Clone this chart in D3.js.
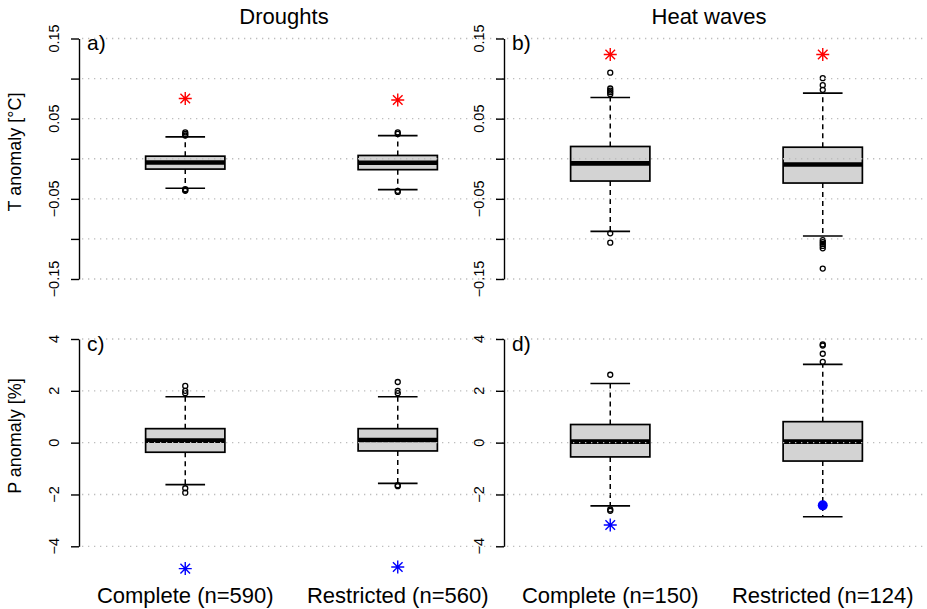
<!DOCTYPE html>
<html><head><meta charset="utf-8">
<script src="https://cdn.jsdelivr.net/npm/d3@7"></script>
<style>body{margin:0;background:#fff} svg{display:block} text{font-family:"Liberation Sans",Arial,sans-serif;fill:#000}</style>
</head><body>
<script>
const panelTitles = ["Droughts", "Heat waves"];
const panelLetters = ["a)", "b)", "c)", "d)"];
const yLabels = ["T anomaly [°C]", "P anomaly [%]"];
const droughtCats = ["Complete (n=590)", "Restricted (n=560)"];
const heatCats = ["Complete (n=150)", "Restricted (n=124)"];
const tTicks = [-0.15, -0.10, -0.05, 0, 0.05, 0.10, 0.15];
const tTickLabels = ["−0.15", "", "−0.05", "", "0.05", "", "0.15"];
const pTicks = [-4, -2, 0, 2, 4];
const pTickLabels = ["−4", "−2", "0", "2", "4"];

// each box: [lower whisker, Q1, median, Q3, upper whisker]
const droughtT = [[-0.0368, -0.0129, -0.0046, 0.0032, 0.0273], [-0.0385, -0.0136, -0.0050, 0.0041, 0.0289]];
const droughtTOut = [[0.029, 0.031, 0.033, -0.038, -0.039, -0.040], [0.031, 0.033, -0.040, -0.0414]];
const droughtTStar = [0.0752, 0.0732];
const heatT = [[-0.0906, -0.0278, -0.0058, 0.0153, 0.0764], [-0.0964, -0.0303, -0.0071, 0.0144, 0.0819]];
const heatTOut = [[0.1074, 0.0876, 0.085, 0.083, 0.0806, -0.093, -0.1047], [0.1005, 0.0918, 0.086, -0.1014, -0.104, -0.1063, -0.1088, -0.1117, -0.137]];
const heatTStar = [0.130, 0.130];
const droughtP = [[-1.62, -0.37, 0.077, 0.54, 1.77], [-1.57, -0.32, 0.10, 0.54, 1.77]];
const droughtPOut = [[2.19, 2.0, 1.91, -1.76, -1.93], [2.34, 2.0, 1.91, -1.64, -1.68]];
const droughtPStar = [-4.86, -4.80];
const heatP = [[-2.44, -0.55, 0.04, 0.70, 2.28], [-2.86, -0.71, 0.04, 0.81, 3.02]];
const heatPOut = [[2.62, -2.58, -2.63], [3.79, 3.75, 3.43, 3.12]];
const heatPStar = [-3.18, null];
const heatPDot = [null, -2.42];

const W = 927, H = 609;
const svg = d3.select("body").append("svg").attr("width", W).attr("height", H);

const colX = [[79, 504], [504, 929]];
const rowY = [[279, 38.5], [546.3, 339]];

const panels = [
  {col: 0, row: 0, stats: droughtT, out: droughtTOut, star: droughtTStar, starColor: "#ff0000", dot: null, ticks: tTicks, labels: tTickLabels, dom: [-0.15, 0.15], letter: panelLetters[0]},
  {col: 1, row: 0, stats: heatT, out: heatTOut, star: heatTStar, starColor: "#ff0000", dot: null, ticks: tTicks, labels: tTickLabels, dom: [-0.15, 0.15], letter: panelLetters[1]},
  {col: 0, row: 1, stats: droughtP, out: droughtPOut, star: droughtPStar, starColor: "#0000ff", dot: null, ticks: pTicks, labels: pTickLabels, dom: [-4, 4], letter: panelLetters[2]},
  {col: 1, row: 1, stats: heatP, out: heatPOut, star: heatPStar, starColor: "#0000ff", dot: heatPDot, ticks: pTicks, labels: pTickLabels, dom: [-4, 4], letter: panelLetters[3]}
];

const boxHalf = 0.1865; // in x units
function star(g, cx, cy, color) {
  const a = 6.5, b = 4.8;
  const p = `M${cx - a},${cy}L${cx + a},${cy}M${cx},${cy - a}L${cx},${cy + a}M${cx - b},${cy - b}L${cx + b},${cy + b}M${cx - b},${cy + b}L${cx + b},${cy - b}`;
  g.append("path").attr("d", p).attr("stroke", color).attr("stroke-width", 1.4).attr("fill", "none");
}

panels.forEach(pn => {
  const x = d3.scaleLinear().domain([0.5, 2.5]).range(colX[pn.col]);
  const y = d3.scaleLinear().domain(pn.dom).range(rowY[pn.row]);
  const g = svg.append("g");
  const x0 = colX[pn.col][0];

  // axis
  const ax = g.append("g").attr("transform", `translate(${x0},0)`)
    .call(d3.axisLeft(y).tickValues(pn.ticks).tickFormat("").tickSizeOuter(0).tickSizeInner(8));
  ax.select(".domain").attr("stroke-width", 1.4);
  ax.selectAll(".tick line").attr("stroke-width", 1.4);
  pn.ticks.forEach((t, i) => {
    if (!pn.labels[i]) return;
    g.append("text").attr("transform", `translate(${x0 - 20.5},${y(t)}) rotate(-90)`)
      .attr("text-anchor", "middle").attr("font-size", 14.5).text(pn.labels[i]);
  });

  // boxes
  pn.stats.forEach((s, i) => {
    const cx = x(i + 1);
    const bx0 = x(i + 1 - boxHalf), bx1 = x(i + 1 + boxHalf);
    const cw = (bx1 - bx0) / 4;
    g.append("line").attr("x1", cx).attr("x2", cx).attr("y1", y(s[3])).attr("y2", y(s[4]))
      .attr("stroke", "#000").attr("stroke-width", 1.5).attr("stroke-dasharray", "5,4");
    g.append("line").attr("x1", cx).attr("x2", cx).attr("y1", y(s[1])).attr("y2", y(s[0]))
      .attr("stroke", "#000").attr("stroke-width", 1.5).attr("stroke-dasharray", "5,4");
    [s[0], s[4]].forEach(v => g.append("line").attr("x1", cx - cw).attr("x2", cx + cw)
      .attr("y1", y(v)).attr("y2", y(v)).attr("stroke", "#000").attr("stroke-width", 1.6));
    g.append("rect").attr("x", bx0).attr("width", bx1 - bx0).attr("y", y(s[3])).attr("height", y(s[1]) - y(s[3]))
      .attr("fill", "#d3d3d3").attr("stroke", "#000").attr("stroke-width", 1.7);
    g.append("line").attr("x1", bx0).attr("x2", bx1).attr("y1", y(s[2])).attr("y2", y(s[2]))
      .attr("stroke", "#000").attr("stroke-width", 4.6);
    pn.out[i].forEach(v => g.append("circle").attr("cx", cx).attr("cy", y(v)).attr("r", 2.5)
      .attr("fill", "none").attr("stroke", "#000").attr("stroke-width", 1.3));
    if (pn.star[i] != null) star(g, cx, y(pn.star[i]), pn.starColor);
    if (pn.dot && pn.dot[i] != null) g.append("circle").attr("cx", cx).attr("cy", y(pn.dot[i])).attr("r", 5).attr("fill", "#0000ff");
  });

  // grid (drawn on top, dotted)
  pn.ticks.forEach(t => g.append("line").attr("x1", x0 + 3).attr("x2", colX[pn.col][1])
    .attr("y1", y(t)).attr("y2", y(t)).attr("stroke", "#bdbdbd").attr("stroke-width", 1.3)
    .attr("stroke-dasharray", "1.3,4.7"));

  g.append("text").attr("x", x0 + 8).attr("y", rowY[pn.row][1] + 11.5).attr("font-size", 21).text(pn.letter);

  if (pn.row === 1) {
    const cats = pn.col === 0 ? droughtCats : heatCats;
    cats.forEach((c, i) => g.append("text").attr("x", x(i + 1)).attr("y", 603).attr("text-anchor", "middle")
      .attr("font-size", 22).text(c));
  }
});

svg.append("text").attr("x", 284).attr("y", 24).attr("text-anchor", "middle").attr("font-size", 22).text(panelTitles[0]);
svg.append("text").attr("x", 709).attr("y", 24).attr("text-anchor", "middle").attr("font-size", 22).text(panelTitles[1]);
svg.append("text").attr("transform", "translate(21,152) rotate(-90)").attr("text-anchor", "middle").attr("font-size", 18).text(yLabels[0]);
svg.append("text").attr("transform", "translate(21,436) rotate(-90)").attr("text-anchor", "middle").attr("font-size", 18).text(yLabels[1]);
</script>
</body></html>
